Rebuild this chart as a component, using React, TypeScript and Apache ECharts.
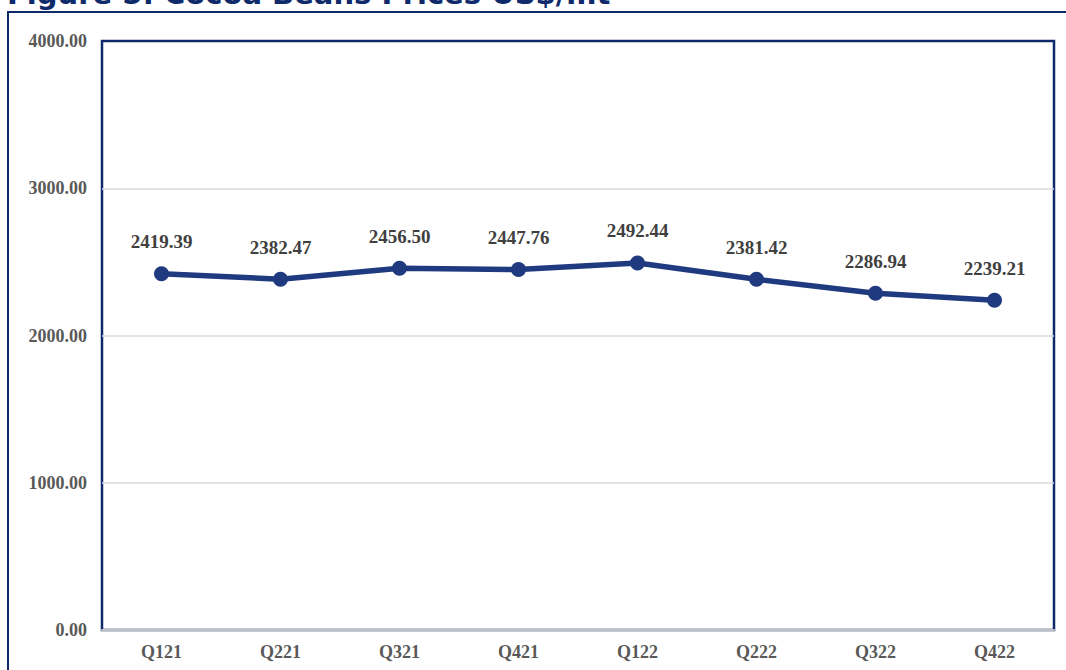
import React, { useEffect, useRef } from "react";
import * as echarts from "echarts";

const categories = ["Q121", "Q221", "Q321", "Q421", "Q122", "Q222", "Q322", "Q422"];
const prices = [2419.39, 2382.47, 2456.5, 2447.76, 2492.44, 2381.42, 2286.94, 2239.21];
const titleText = "Figure 5: Cocoa Beans Prices US$/mt";

export default function App() {
  const ref = useRef<HTMLDivElement>(null);
  useEffect(() => {
    if (!ref.current) return;
    const chart = echarts.init(ref.current, null, { renderer: "svg" });
    const navy = "#1f3a7f";
    const frame = "#0e2a6b";
    chart.setOption({
      animation: false,
      backgroundColor: "#ffffff",
      graphic: [
        {
          type: "rect",
          shape: { x: 8, y: 12, width: 1080, height: 680 },
          style: { fill: "none", stroke: frame, lineWidth: 2 },
          z: 0,
        },
        {
          type: "text",
          x: 7,
          y: -21,
          style: {
            text: titleText,
            font: "bold 29px 'DejaVu Sans'",
            fill: frame,
          },
          z: 10,
        },
      ],
      grid: {
        left: 102,
        top: 41,
        right: 12,
        bottom: 40,
        show: true,
        borderColor: frame,
        borderWidth: 2.5,
        backgroundColor: "transparent",
      },
      xAxis: {
        type: "category",
        data: categories,
        boundaryGap: true,
        axisLine: { show: true, lineStyle: { color: "#bfbfbf", width: 2 } },
        axisTick: { show: false },
        axisLabel: {
          color: "#595959",
          fontFamily: "'Liberation Serif', serif",
          fontWeight: "bold",
          fontSize: 18,
          margin: 13,
        },
        z: 5,
      },
      yAxis: {
        type: "value",
        min: 0,
        max: 4000,
        interval: 1000,
        axisLine: { show: false },
        axisTick: { show: false },
        splitLine: { showMaxLine: false, showMinLine: false, lineStyle: { color: "#d9d9d9", width: 1.5 } },
        axisLabel: {
          color: "#595959",
          fontFamily: "'Liberation Serif', serif",
          fontWeight: "bold",
          fontSize: 18,
          margin: 15,
          formatter: (v: number) => v.toFixed(2),
        },
      },
      series: [
        {
          type: "line",
          data: prices,
          lineStyle: { color: navy, width: 5.5 },
          itemStyle: { color: navy },
          symbol: "circle",
          symbolSize: 15,
          label: {
            show: true,
            position: "top",
            distance: 15,
            color: "#404040",
            fontFamily: "'Liberation Serif', serif",
            fontWeight: "bold",
            fontSize: 19,
            formatter: (p: any) => Number(p.value).toFixed(2),
          },
          z: 10,
        },
      ],
    });
    return () => chart.dispose();
  }, []);
  return (
    <div
      ref={ref}
      style={{ position: "fixed", left: 0, top: 0, width: 1066, height: 670, background: "#fff" }}
    />
  );
}
